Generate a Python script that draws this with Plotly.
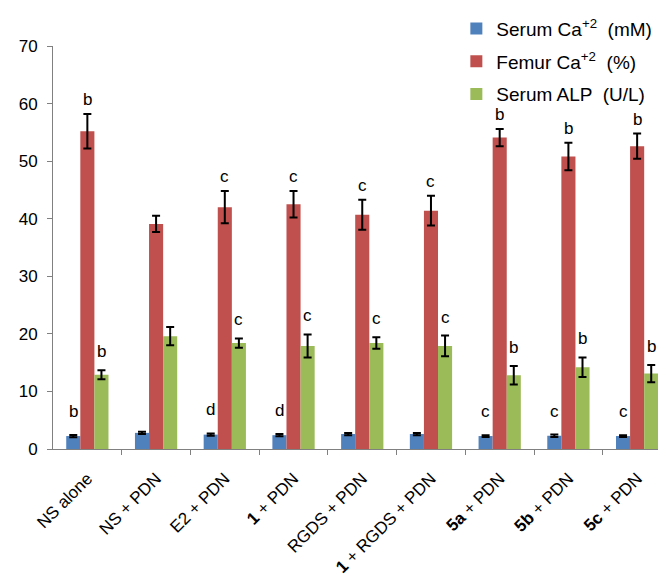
import plotly.graph_objects as go

categories = ["NS alone", "NS + PDN", "E2 + PDN", "<b>1</b> + PDN", "RGDS + PDN",
              "<b>1</b> + RGDS + PDN", "<b>5a</b> + PDN", "<b>5b</b> + PDN", "<b>5c</b> + PDN"]

serum_ca = [2.25, 2.8, 2.5, 2.4, 2.6, 2.6, 2.25, 2.3, 2.25]
serum_ca_err = [0.2, 0.2, 0.2, 0.2, 0.2, 0.2, 0.15, 0.2, 0.15]
serum_ca_sig = ["b", "", "d", "d", "", "", "c", "c", "c"]

femur_ca = [55.2, 39.1, 42.0, 42.5, 40.7, 41.4, 54.1, 50.8, 52.6]
femur_ca_err = [3.0, 1.4, 2.8, 2.3, 2.6, 2.6, 1.5, 2.4, 2.2]
femur_ca_sig = ["b", "", "c", "c", "c", "c", "b", "b", "b"]

serum_alp = [12.9, 19.6, 18.4, 17.9, 18.4, 17.9, 12.8, 14.2, 13.1]
serum_alp_err = [0.8, 1.6, 0.8, 2.0, 1.0, 1.8, 1.6, 1.7, 1.5]
serum_alp_sig = ["b", "", "c", "c", "c", "c", "b", "b", "b"]

series_names = ["Serum Ca<sup>+2</sup>  (mM)", "Femur Ca<sup>+2</sup>  (%)", "Serum ALP  (U/L)"]
colors = ["#4F81BD", "#C0504D", "#9BBB59"]

bar_w = 0.205
offsets = [-bar_w, 0.0, bar_w]
letter_shift = [12, 3, 7]
xs = list(range(len(categories)))

fig = go.Figure()
series = [(serum_ca, serum_ca_err, serum_ca_sig), (femur_ca, femur_ca_err, femur_ca_sig),
          (serum_alp, serum_alp_err, serum_alp_sig)]

for k, (vals, errs, sig) in enumerate(series):
    fig.add_trace(go.Bar(
        x=[x + offsets[k] for x in xs], y=vals, width=bar_w,
        name=series_names[k], marker=dict(color=colors[k], line=dict(width=0)),
        error_y=dict(type="data", array=errs, visible=True, color="black", thickness=2, width=4),
        legendgroup=f"g{k}",
    ))
    for x, v, e, s in zip(xs, vals, errs, sig):
        if s:
            fig.add_annotation(x=x + offsets[k], y=v + e, text=s, showarrow=False,
                               xanchor="center", yanchor="bottom", yshift=letter_shift[k],
                               font=dict(family="Liberation Sans, Arial", size=17, color="black"))

# page body has an 8px margin, so the figure is sized to fit the 666x586 window
fig.update_layout(
    width=658, height=578,
    margin=dict(l=45, r=0, t=38, b=137, autoexpand=False),
    paper_bgcolor="white", plot_bgcolor="white",
    font=dict(family="Liberation Sans, Arial", color="black"),
    barmode="overlay",
    legend=dict(x=0.658, y=1.09, xanchor="left", yanchor="top",
                font=dict(size=19, color="black"), bgcolor="rgba(0,0,0,0)",
                traceorder="grouped", tracegroupgap=5),
    xaxis=dict(range=[-0.5, 8.42], tickmode="array", tickvals=xs, ticktext=categories,
               tickangle=-45, ticks="", showline=True, linecolor="#808080", linewidth=1,
               showgrid=False, zeroline=False, automargin=False,
               tickfont=dict(size=17, color="black"), ticklabelstandoff=12,
               minor=dict(tickmode="array", tickvals=[x + 0.5 for x in xs[:-1]], ticks="outside",
                          ticklen=5, tickcolor="#808080", showgrid=False)),
    yaxis=dict(range=[0, 70], tickmode="array", tickvals=[0, 10, 20, 30, 40, 50, 60, 70],
               ticks="outside", ticklen=5, tickcolor="#808080", showline=True,
               linecolor="#808080", linewidth=1, showgrid=False, zeroline=False,
               automargin=False, tickfont=dict(size=17, color="black"), ticklabelstandoff=6),
)

fig.write_html("out.html")
